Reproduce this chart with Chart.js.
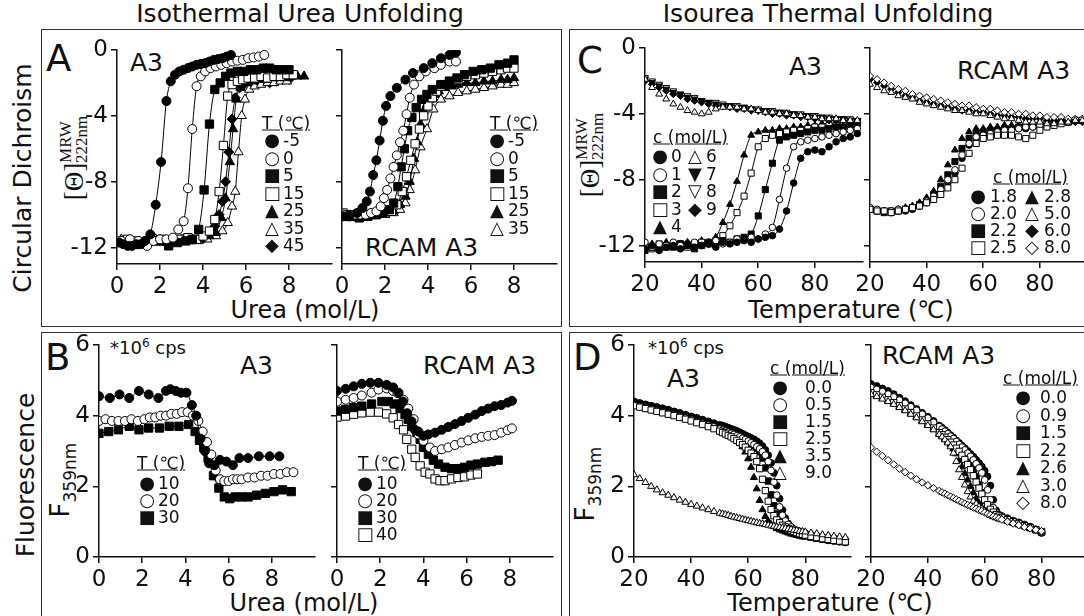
<!DOCTYPE html>
<html>
<head>
<meta charset="utf-8">
<script src="https://cdn.jsdelivr.net/npm/chart.js@4.4.1/dist/chart.umd.min.js"></script>
<style>
  body { margin: 0; width: 1084px; height: 616px; overflow: hidden; position: relative; background: #fff;
         font-family: 'DejaVu Sans', sans-serif; color: #111; }
  canvas { position: absolute; }
  .box { position: absolute; border: 1.5px solid #333; box-sizing: border-box; }
  .t { position: absolute; white-space: nowrap; line-height: 1; transform: translateY(-50%); }
  .c { position: absolute; white-space: nowrap; line-height: 1; transform: translate(-50%, -50%); }
  .v { position: absolute; white-space: nowrap; line-height: 1; transform: translate(-50%, -50%) rotate(-90deg); }
  .title { font-size: 25px; }
  .row { font-size: 25px; }
  .big { font-size: 37px; }
  .name { font-size: 25px; }
  .ax { font-size: 24px; }
  .cps { font-size: 18px; }
  .cps sup { font-size: 12px; }
  .ser { font-family: 'Liberation Serif', serif; font-size: 27px; vertical-align: middle; }
  .stk { display: inline-block; vertical-align: middle; font-family: 'Liberation Serif', serif; font-size: 17px; line-height: 0.95; }
  .stk span { display: block; }
  .fl { font-size: 26px; }
  .fl sub { font-size: 17px; }
  .lg { font-size: 17px; }
  .hd { text-decoration: underline; }
  .mk { font-size: 18px; }
</style>
</head>
<body>

<div class="box" style="left:41px;top:29px;width:521px;height:298px"></div>
<div class="box" style="left:41px;top:332px;width:521px;height:300px"></div>
<div class="box" style="left:569px;top:29px;width:530px;height:298px"></div>
<div class="box" style="left:569px;top:332px;width:530px;height:300px"></div>

<div class="c title" style="left:300px;top:13px">Isothermal Urea Unfolding</div>
<div class="c title" style="left:828px;top:13px">Isourea Thermal Unfolding</div>

<div class="v row" style="left:22px;top:178px">Circular Dichroism</div>
<div class="v row" style="left:25px;top:475px">Fluorescence</div>

<div class="t big" style="left:46px;top:58px">A</div>
<div class="t big" style="left:45px;top:357px">B</div>
<div class="t big" style="left:577px;top:60px">C</div>
<div class="t big" style="left:573px;top:357px">D</div>

<div class="t name" style="left:130px;top:62px">A3</div>
<div class="t name" style="left:365px;top:247px">RCAM A3</div>
<div class="t name" style="left:789px;top:66px">A3</div>
<div class="t name" style="left:957px;top:70px">RCAM A3</div>
<div class="t name" style="left:240px;top:365px">A3</div>
<div class="t name" style="left:423px;top:365px">RCAM A3</div>
<div class="t name" style="left:667px;top:378px">A3</div>
<div class="t name" style="left:882px;top:355px">RCAM A3</div>

<div class="t cps" style="left:110px;top:347px">*10<sup>6</sup> cps</div>
<div class="t cps" style="left:648px;top:347px">*10<sup>6</sup> cps</div>

<div class="c ax" style="left:305px;top:310px">Urea (mol/L)</div>
<div class="c ax" style="left:304px;top:603px">Urea (mol/L)</div>
<div class="c ax" style="left:851px;top:310px">Temperature (℃)</div>
<div class="c ax" style="left:830px;top:603px">Temperature (℃)</div>

<div class="v" style="left:74px;top:158px"><span class="ser">[Θ]</span><span class="stk"><span>MRW</span><span>222nm</span></span></div>
<div class="v" style="left:590px;top:155px"><span class="ser">[Θ]</span><span class="stk"><span>MRW</span><span>222nm</span></span></div>
<div class="v fl" style="left:63px;top:480px">F<sub>359nm</sub></div>
<div class="v fl" style="left:588px;top:484px">F<sub>359nm</sub></div>

<script>
// ---- tick values ----
const ureaTicks = [0, 2, 4, 6, 8];
const tempTicks = [20, 40, 60, 80];
const cdTicks = [0, -4, -8, -12];
const flTicks = [0, 2, 4, 6];

// ---- A: CD of A3 vs urea, one series per temperature ----
const cdA3Temps = ['-5', '0', '5', '15', '25', '35', '45'];
const cdA3_m5_x = [0.1,0.3,0.5,0.7,0.9,1.1,1.3,1.55,1.8,2.05,2.3,2.5,2.7,2.9,3.1,3.3,3.5,3.7,3.9,4.1,4.3,4.5,4.7,4.9,5.1,5.3];
const cdA3_m5_y = [-11.7,-11.8,-11.9,-11.9,-11.8,-11.8,-11.6,-11.2,-9.4,-6.8,-3.1,-1.9,-1.5,-1.3,-1.2,-1.1,-1.0,-0.9,-0.85,-0.8,-0.7,-0.6,-0.55,-0.5,-0.4,-0.3];
const cdA3_0_x = [0.2,0.6,1.0,1.4,1.7,2.0,2.3,2.6,2.85,3.1,3.3,3.5,3.7,3.9,4.1,4.35,4.6,4.85,5.1,5.35,5.6,5.85,6.1,6.35,6.6,6.85];
const cdA3_0_y = [-11.6,-11.5,-11.6,-11.9,-11.6,-11.5,-11.5,-11.4,-10.9,-10.4,-8.4,-4.8,-2.2,-1.6,-1.3,-1.1,-1.0,-0.9,-0.8,-0.7,-0.65,-0.6,-0.5,-0.45,-0.4,-0.3];
const cdA3_5_x = [0.4,0.8,1.2,1.6,2.0,2.4,2.8,3.2,3.5,3.8,4.05,4.3,4.55,4.8,5.05,5.3,5.6,5.9,6.2,6.5,6.8,7.1,7.4,7.7,8.0];
const cdA3_5_y = [-11.8,-11.8,-11.7,-11.6,-11.6,-11.9,-11.7,-11.6,-11.5,-10.9,-8.5,-4.5,-2.4,-2.0,-1.6,-1.4,-1.3,-1.3,-1.2,-1.2,-1.1,-1.1,-1.2,-1.2,-1.2];
const cdA3_15_x = [0.1,0.5,0.9,1.3,1.7,2.1,2.5,2.9,3.3,3.7,4.0,4.3,4.55,4.75,4.95,5.15,5.35,5.6,5.85,6.1,6.4,6.7,7.0,7.3,7.6,7.9,8.2];
const cdA3_15_y = [-11.6,-11.5,-11.6,-11.7,-11.6,-11.5,-11.6,-11.5,-11.4,-11.5,-11.3,-11.0,-10.3,-8.6,-5.8,-2.8,-2.1,-1.9,-1.8,-1.7,-1.7,-1.6,-1.7,-1.6,-1.6,-1.5,-1.5];
const cdA3_25_x = [0.3,0.7,1.1,1.5,1.9,2.3,2.7,3.1,3.5,3.9,4.3,4.6,4.85,5.05,5.25,5.4,5.55,5.75,6.0,6.3,6.6,6.9,7.2,7.5,7.8,8.1,8.4,8.7];
const cdA3_25_y = [-11.6,-11.7,-11.8,-11.7,-11.6,-11.7,-11.6,-11.5,-11.6,-11.5,-11.3,-11.1,-10.2,-9.0,-6.8,-4.8,-3.0,-2.3,-2.0,-1.9,-1.8,-1.8,-1.7,-1.7,-1.7,-1.6,-1.6,-1.6];
const cdA3_35_x = [0.2,0.6,1.0,1.4,1.8,2.2,2.6,3.0,3.4,3.8,4.2,4.6,4.9,5.15,5.35,5.5,5.65,5.8,5.95,6.15,6.4,6.7,7.0,7.3,7.6,7.9];
const cdA3_35_y = [-11.5,-11.6,-11.7,-11.6,-11.5,-11.6,-11.6,-11.5,-11.6,-11.6,-11.5,-11.3,-11.0,-10.5,-9.5,-8.6,-6.2,-4.0,-3.0,-2.4,-2.2,-2.1,-2.0,-2.0,-1.9,-1.9];
const cdA3_45_x = [0.5,1.0,1.5,2.0,2.5,3.0,3.5,4.0,4.3,4.55,4.75,4.9,5.05,5.2,5.35,5.5,5.7,5.9,6.2,6.5,6.8,7.1,7.4,7.7,8.0];
const cdA3_45_y = [-11.7,-11.8,-11.7,-11.6,-11.7,-11.6,-11.5,-11.4,-11.2,-10.7,-10.0,-9.2,-8.0,-6.2,-4.2,-2.9,-2.3,-2.1,-2.0,-2.0,-1.9,-2.0,-1.9,-1.8,-1.8];

// ---- A: CD of RCAM A3 vs urea ----
const cdRcTemps = ['-5', '0', '5', '15', '25', '35'];
const cdRc_m5_x = [0.05,0.35,0.7,0.95,1.15,1.3,1.45,1.6,1.75,1.9,2.05,2.25,2.55,2.95,3.3,3.8,4.2,4.6,5.0,5.3];
const cdRc_m5_y = [-10.1,-10.1,-9.9,-9.6,-9.2,-8.6,-7.6,-6.7,-5.5,-4.3,-3.4,-2.8,-2.3,-1.8,-1.4,-1.1,-0.8,-0.5,-0.3,-0.15];
const cdRc_0_x = [0.05,0.35,0.6,0.85,1.1,1.35,1.6,1.8,1.95,2.1,2.25,2.4,2.55,2.7,2.85,3.0,3.15,3.35,3.6,3.9,4.3,4.6,5.0,5.3];
const cdRc_0_y = [-10.0,-10.1,-10.0,-10.0,-10.0,-9.9,-9.8,-9.5,-9.0,-8.5,-7.8,-7.1,-6.4,-5.6,-4.9,-3.9,-2.9,-2.1,-1.6,-1.3,-1.1,-0.9,-0.7,-0.7];
const cdRc_5_x = [0.05,0.4,0.8,1.2,1.6,1.9,2.2,2.4,2.6,2.75,2.9,3.05,3.25,3.45,3.7,3.95,4.2,4.6,5.0,5.35,5.7,6.1,6.5,6.9,7.3,7.7,8.0];
const cdRc_5_y = [-10.0,-10.1,-10.2,-10.1,-10.0,-9.9,-9.7,-9.3,-8.3,-7.1,-6.0,-4.9,-4.1,-3.5,-3.0,-2.7,-2.4,-2.1,-1.9,-1.7,-1.5,-1.3,-1.2,-1.1,-0.9,-0.8,-0.6];
const cdRc_15_x = [0.05,0.4,0.8,1.2,1.6,2.0,2.3,2.55,2.8,3.0,3.2,3.4,3.6,3.8,4.0,4.2,4.4,4.6,5.0,5.4,5.8,6.2,6.6,7.0,7.4,7.7,8.0];
const cdRc_15_y = [-9.9,-10.0,-10.1,-10.0,-10.0,-9.9,-9.8,-9.4,-8.6,-7.7,-6.7,-5.7,-4.8,-4.0,-3.4,-2.9,-2.5,-2.2,-1.9,-1.8,-1.6,-1.5,-1.4,-1.3,-1.2,-1.1,-1.1];
const cdRc_25_x = [0.05,0.4,0.8,1.2,1.6,2.0,2.4,2.7,2.95,3.15,3.35,3.5,3.65,3.8,3.95,4.1,4.3,4.5,4.8,5.1,5.4,5.8,6.2,6.6,7.0,7.4,7.7,8.0];
const cdRc_25_y = [-10.2,-10.2,-10.1,-10.1,-10.0,-10.0,-9.8,-9.4,-8.9,-8.0,-6.6,-5.6,-4.5,-3.7,-3.3,-3.0,-2.7,-2.5,-2.3,-2.2,-2.1,-2.0,-2.0,-1.9,-1.9,-1.8,-1.8,-1.7];
const cdRc_35_x = [0.05,0.4,0.8,1.2,1.6,2.0,2.4,2.7,2.95,3.15,3.4,3.65,3.95,4.25,4.6,5.0,5.4,5.8,6.2,6.6,7.0,7.4,7.7,8.0];
const cdRc_35_y = [-10.0,-10.1,-10.2,-10.1,-10.0,-10.0,-9.9,-9.7,-9.3,-8.5,-7.3,-5.9,-4.8,-3.6,-3.0,-2.8,-2.6,-2.5,-2.4,-2.3,-2.2,-2.1,-2.1,-2.0];

// ---- B: fluorescence of A3 vs urea ----
const flA3Temps = ['10', '20', '30'];
const flA3_10_x = [0,0.5,0.95,1.4,1.85,2.3,2.75,3.1,3.3,3.55,3.8,4.05,4.3,4.5,4.7,4.9,5.1,5.35,5.6,5.9,6.2,6.5,6.9,7.4,7.9,8.35];
const flA3_10_y = [4.55,4.5,4.6,4.5,4.7,4.6,4.5,4.7,4.75,4.7,4.65,4.65,4.3,4.0,3.35,3.0,2.65,2.6,2.75,2.7,2.6,2.8,2.8,2.85,2.85,2.85];
const flA3_20_x = [0,0.3,0.6,0.9,1.2,1.5,1.8,2.1,2.35,2.6,2.85,3.1,3.35,3.6,3.85,4.1,4.35,4.6,4.8,5.0,5.2,5.4,5.6,5.8,6.0,6.2,6.4,6.6,6.9,7.2,7.5,7.8,8.1,8.4,8.7,9.0];
const flA3_20_y = [3.85,3.9,3.85,3.85,3.85,3.9,3.85,3.9,3.95,3.95,4.0,4.0,4.05,4.05,4.1,4.1,4.0,3.85,3.55,3.25,2.9,2.45,2.2,2.15,2.15,2.2,2.2,2.2,2.25,2.25,2.3,2.3,2.35,2.35,2.4,2.4];
const flA3_30_x = [0,0.45,0.9,1.4,1.85,2.3,2.8,3.25,3.7,4.15,4.45,4.65,4.85,5.05,5.3,5.55,5.8,6.05,6.3,6.6,6.9,7.3,7.7,8.1,8.5,8.9];
const flA3_30_y = [3.5,3.55,3.6,3.7,3.6,3.65,3.65,3.7,3.7,3.75,3.55,3.3,3.1,2.8,2.3,1.95,1.7,1.65,1.7,1.7,1.7,1.75,1.8,1.85,1.9,1.85];

// ---- B: fluorescence of RCAM A3 vs urea ----
const flRcTemps = ['10', '20', '30', '40'];
const flRc_10_x = [0,0.4,0.77,1.15,1.54,1.92,2.3,2.6,2.85,3.05,3.25,3.45,3.6,3.77,4.0,4.23,4.54,4.85,5.15,5.46,5.77,6.08,6.4,6.7,7.0,7.3,7.6,7.9,8.1];
const flRc_10_y = [4.7,4.76,4.83,4.9,4.93,4.93,4.87,4.8,4.65,4.4,4.07,3.84,3.6,3.55,3.43,3.47,3.52,3.6,3.68,3.76,3.85,3.94,4.03,4.13,4.2,4.27,4.3,4.37,4.42];
const flRc_20_x = [0,0.4,0.77,1.15,1.6,1.92,2.3,2.6,2.8,3.08,3.3,3.55,3.77,4.0,4.3,4.54,4.85,5.15,5.46,5.77,6.08,6.4,6.7,7.0,7.3,7.6,7.9,8.1];
const flRc_20_y = [4.4,4.45,4.5,4.57,4.65,4.74,4.77,4.7,4.64,4.45,4.2,3.9,3.47,3.29,3.1,3.0,3.05,3.1,3.17,3.24,3.3,3.36,3.4,3.43,3.45,3.52,3.59,3.64];
const flRc_30_x = [0,0.4,0.77,1.15,1.6,2.08,2.38,2.65,2.92,3.15,3.3,3.46,3.7,3.85,4.0,4.23,4.46,4.7,5.0,5.3,5.6,5.9,6.2,6.5,6.85,7.15,7.46];
const flRc_30_y = [4.13,4.18,4.23,4.27,4.33,4.4,4.4,4.33,4.2,4.03,3.9,3.7,3.52,3.33,3.1,2.91,2.74,2.63,2.54,2.5,2.5,2.54,2.6,2.63,2.68,2.7,2.74];
const flRc_40_x = [0,0.4,0.77,1.15,1.54,1.92,2.3,2.6,2.85,3.08,3.23,3.46,3.62,3.85,4.08,4.3,4.54,4.77,5.0,5.3,5.6,5.9,6.2,6.5];
const flRc_40_y = [3.96,3.99,4.04,4.08,4.1,4.1,4.05,3.94,3.75,3.6,3.33,3.05,2.82,2.58,2.4,2.35,2.21,2.16,2.16,2.21,2.25,2.27,2.32,2.35];

// ---- C: CD melts, shared temperature grid ----
const cdTemp = [20,22.5,25,27.5,30,32.5,35,37.5,40,42.5,45,47.5,50,52.5,55,57.5,60,62.5,65,67.5,70,72.5,75,77.5,80,82.5,85,87.5,90,92.5,95];
const cdA3Urea = ['0', '1', '2', '3', '4', '6', '7', '8', '9'];
const cdA3_c0 = [-12.2,-12.0,-12.3,-12.1,-12.0,-12.2,-11.9,-12.1,-12.0,-11.9,-12.1,-11.8,-11.9,-11.8,-11.7,-11.8,-11.6,-11.5,-11.4,-11.0,-9.9,-8.2,-6.7,-6.3,-6.2,-6.3,-6.0,-5.7,-5.5,-5.4,-5.2];
const cdA3_c1 = [-11.8,-12.1,-11.9,-12.0,-11.8,-12.0,-11.9,-11.8,-12.0,-11.9,-11.7,-11.9,-11.8,-11.6,-11.7,-11.5,-11.6,-11.3,-10.9,-9.2,-7.3,-6.0,-5.7,-5.6,-5.5,-5.4,-5.3,-5.2,-5.1,-5.0,-4.9];
const cdA3_c2 = [-12.3,-12.1,-12.2,-12.0,-12.1,-11.9,-12.0,-12.2,-12.0,-11.8,-11.9,-11.7,-11.8,-11.6,-11.5,-11.3,-10.2,-8.6,-7.0,-5.6,-5.4,-5.3,-5.2,-5.1,-5.0,-5.0,-4.9,-4.8,-4.8,-4.7,-4.6];
const cdA3_c3 = [-12.0,-12.2,-11.9,-12.1,-12.0,-11.9,-12.1,-11.9,-11.8,-11.9,-11.7,-11.4,-10.8,-10.0,-9.0,-7.6,-6.0,-5.5,-5.3,-5.2,-5.1,-5.0,-5.0,-4.9,-4.8,-4.8,-4.7,-4.7,-4.6,-4.6,-4.5];
const cdA3_c4 = [-12.1,-11.9,-12.0,-11.8,-12.0,-11.9,-11.8,-11.9,-11.7,-11.8,-11.5,-10.6,-9.5,-8.1,-6.5,-5.3,-5.1,-5.0,-5.0,-4.9,-4.9,-4.8,-4.8,-4.7,-4.7,-4.6,-4.6,-4.6,-4.5,-4.5,-4.5];
const cdA3_c6 = [-1.9,-2.4,-2.8,-3.1,-3.4,-3.6,-3.8,-3.9,-4.0,-3.9,-3.7,-3.6,-3.6,-3.6,-3.7,-3.7,-3.8,-3.9,-3.9,-4.0,-4.0,-4.1,-4.1,-4.2,-4.2,-4.3,-4.3,-4.3,-4.4,-4.4,-4.4];
const cdA3_c7 = [-1.9,-2.1,-2.3,-2.5,-2.7,-2.8,-3.0,-3.1,-3.2,-3.3,-3.4,-3.5,-3.5,-3.6,-3.6,-3.7,-3.8,-3.8,-3.9,-3.9,-4.0,-4.0,-4.1,-4.1,-4.2,-4.2,-4.3,-4.3,-4.3,-4.4,-4.4];
const cdA3_c8 = [-1.8,-2.0,-2.2,-2.4,-2.6,-2.8,-2.9,-3.0,-3.2,-3.3,-3.3,-3.4,-3.5,-3.5,-3.6,-3.7,-3.7,-3.8,-3.8,-3.9,-3.9,-4.0,-4.0,-4.1,-4.1,-4.2,-4.2,-4.3,-4.3,-4.3,-4.4];
const cdA3_c9 = [-2.0,-2.2,-2.4,-2.6,-2.8,-2.9,-3.1,-3.2,-3.3,-3.4,-3.5,-3.5,-3.6,-3.7,-3.7,-3.8,-3.8,-3.9,-4.0,-4.0,-4.1,-4.1,-4.2,-4.2,-4.3,-4.3,-4.4,-4.4,-4.4,-4.5,-4.5];

const cdRcUrea = ['1.8', '2.0', '2.2', '2.5', '2.8', '5.0', '6.0', '8.0'];
const cdRc_c18 = [-9.8,-9.9,-9.9,-10.0,-9.9,-9.9,-9.8,-9.6,-9.4,-9.1,-8.7,-8.2,-7.6,-6.7,-5.9,-5.5,-5.3,-5.2,-5.1,-5.1,-5.0,-4.9,-4.9,-4.8,-4.7,-4.7,-4.6,-4.5,-4.5,-4.4,-4.4];
const cdRc_c20 = [-9.7,-9.8,-9.9,-9.9,-9.8,-9.8,-9.7,-9.6,-9.3,-9.0,-8.6,-8.0,-7.4,-6.5,-5.8,-5.4,-5.3,-5.2,-5.1,-5.0,-5.0,-4.9,-4.8,-4.8,-4.7,-4.6,-4.6,-4.5,-4.5,-4.4,-4.4];
const cdRc_c22 = [-9.8,-9.9,-10.0,-9.9,-9.9,-9.8,-9.7,-9.5,-9.3,-8.9,-8.4,-7.7,-6.9,-6.1,-5.5,-5.2,-5.1,-5.0,-5.0,-4.9,-4.9,-4.8,-4.8,-4.7,-4.7,-4.6,-4.6,-4.5,-4.5,-4.4,-4.4];
const cdRc_c25 = [-9.8,-9.9,-9.9,-10.0,-9.9,-9.8,-9.7,-9.6,-9.4,-9.2,-8.9,-8.5,-8.0,-7.3,-6.4,-5.8,-5.5,-5.4,-5.3,-5.3,-5.3,-5.4,-5.5,-5.3,-5.0,-4.8,-4.7,-4.6,-4.5,-4.4,-4.4];
const cdRc_c28 = [-9.8,-9.9,-9.9,-9.9,-9.8,-9.7,-9.6,-9.4,-9.1,-8.7,-8.0,-7.1,-6.2,-5.5,-5.1,-4.9,-4.9,-4.8,-4.8,-4.7,-4.7,-4.7,-4.6,-4.6,-4.6,-4.5,-4.5,-4.5,-4.4,-4.4,-4.4];
const cdRc_c50 = [-2.2,-2.4,-2.6,-2.7,-2.9,-3.0,-3.1,-3.3,-3.4,-3.5,-3.6,-3.7,-3.8,-3.8,-3.9,-4.0,-4.0,-4.1,-4.2,-4.3,-4.3,-4.4,-4.5,-4.5,-4.5,-4.6,-4.6,-4.5,-4.5,-4.4,-4.4];
const cdRc_c60 = [-1.9,-2.1,-2.3,-2.5,-2.7,-2.9,-3.0,-3.2,-3.3,-3.4,-3.5,-3.6,-3.7,-3.8,-3.8,-3.9,-3.9,-4.0,-4.1,-4.1,-4.2,-4.2,-4.3,-4.3,-4.3,-4.4,-4.4,-4.4,-4.4,-4.5,-4.5];
const cdRc_c80 = [-1.7,-1.9,-2.1,-2.3,-2.5,-2.6,-2.8,-2.9,-3.0,-3.1,-3.2,-3.3,-3.4,-3.5,-3.5,-3.6,-3.7,-3.7,-3.8,-3.9,-3.9,-4.0,-4.0,-4.1,-4.1,-4.2,-4.2,-4.2,-4.3,-4.3,-4.3];

// ---- D: fluorescence melts (1 degree steps through the transitions) ----
const flTempA3 = [20,22,24,26,28,30,32,34,36,38,40,42,44,46,48,
  50,51,52,53,54,55,56,57,58,59,60,61,62,63,64,65,66,67,68,69,70,71,72,73,74,75,76,77,78,79,80,
  82,84,86,88,90,92,94];
const flA3Urea = ['0.0', '0.5', '1.5', '2.5', '3.5', '9.0'];
const flA3_c00 = [4.40,4.36,4.32,4.28,4.25,4.21,4.17,4.12,4.08,4.03,3.98,3.94,3.89,3.84,3.79,
  3.74,3.72,3.69,3.66,3.63,3.60,3.57,3.53,3.49,3.45,3.41,3.37,3.33,3.28,3.22,3.14,3.03,2.88,2.66,2.38,2.02,1.65,1.33,1.10,0.95,0.85,0.78,0.72,0.68,0.65,0.62,
  0.58,0.54,0.50,0.47,0.45,0.43,0.41];
const flA3_c05 = [4.30,4.26,4.22,4.18,4.14,4.10,4.06,4.02,3.97,3.93,3.88,3.83,3.78,3.73,3.68,
  3.62,3.59,3.56,3.53,3.50,3.47,3.43,3.40,3.36,3.32,3.28,3.23,3.18,3.12,3.06,2.98,2.88,2.70,2.45,2.12,1.75,1.42,1.18,1.02,0.92,0.85,0.79,0.75,0.72,0.70,0.67,
  0.63,0.60,0.57,0.55,0.53,0.51,0.49];
const flA3_c15 = [4.38,4.34,4.30,4.26,4.22,4.18,4.14,4.10,4.05,4.00,3.96,3.91,3.86,3.80,3.75,
  3.69,3.66,3.62,3.59,3.55,3.51,3.47,3.43,3.38,3.33,3.28,3.22,3.16,3.08,2.98,2.80,2.52,2.15,1.76,1.45,1.22,1.07,0.97,0.90,0.84,0.79,0.75,0.72,0.69,0.66,0.63,
  0.59,0.55,0.52,0.50,0.47,0.45,0.43];
const flA3_c25 = [4.28,4.24,4.20,4.16,4.12,4.08,4.04,4.00,3.95,3.90,3.85,3.80,3.75,3.69,3.63,
  3.56,3.52,3.48,3.44,3.40,3.35,3.30,3.24,3.18,3.11,3.02,2.94,2.84,2.70,2.50,2.20,1.88,1.58,1.34,1.17,1.05,0.97,0.90,0.85,0.80,0.76,0.72,0.69,0.66,0.64,0.62,
  0.58,0.55,0.52,0.50,0.47,0.45,0.43];
const flA3_c35 = [4.36,4.32,4.28,4.24,4.20,4.16,4.11,4.06,4.01,3.96,3.91,3.86,3.81,3.76,3.70,
  3.64,3.60,3.56,3.51,3.46,3.40,3.32,3.23,3.12,2.97,2.78,2.54,2.25,1.93,1.60,1.34,1.15,1.02,0.92,0.86,0.81,0.77,0.74,0.71,0.68,0.65,0.63,0.61,0.59,0.57,0.56,
  0.53,0.50,0.48,0.46,0.44,0.42,0.41];
const flA3_c90 = [2.33,2.22,2.11,2.00,1.90,1.82,1.75,1.68,1.61,1.55,1.49,1.44,1.39,1.34,1.29,
  1.24,1.22,1.20,1.18,1.15,1.13,1.11,1.09,1.07,1.05,1.03,1.01,0.99,0.97,0.95,0.94,0.92,0.90,0.88,0.87,0.85,0.84,0.82,0.81,0.79,0.78,0.76,0.75,0.73,0.72,0.71,
  0.68,0.66,0.63,0.61,0.59,0.57,0.55];

const flTempRc = [20,22,24,26,28,30,32,34,36,38,40,42,44,
  45,46,47,48,49,50,51,52,53,54,55,56,57,58,59,60,61,62,63,64,65,66,
  68,70,72,74,76,78,80];
const flRcUrea = ['0.0', '0.9', '1.5', '2.2', '2.6', '3.0', '8.0'];
const flRc_c00 = [4.90,4.84,4.77,4.70,4.61,4.51,4.41,4.30,4.19,4.08,3.97,3.85,3.72,
  3.66,3.59,3.52,3.45,3.38,3.30,3.23,3.15,3.08,3.00,2.92,2.84,2.75,2.66,2.56,2.44,2.28,2.02,1.62,1.32,1.20,1.16,
  1.10,1.03,0.98,0.92,0.86,0.78,0.68];
const flRc_c09 = [4.80,4.74,4.68,4.61,4.53,4.44,4.35,4.25,4.15,4.04,3.93,3.81,3.69,
  3.62,3.56,3.49,3.42,3.35,3.27,3.19,3.11,3.03,2.94,2.85,2.75,2.64,2.52,2.38,2.18,1.90,1.62,1.40,1.25,1.18,1.14,
  1.08,1.02,0.97,0.91,0.85,0.78,0.70];
const flRc_c15 = [4.75,4.69,4.62,4.55,4.47,4.38,4.29,4.19,4.09,3.98,3.87,3.75,3.62,
  3.56,3.49,3.42,3.34,3.26,3.18,3.09,3.00,2.90,2.78,2.64,2.48,2.28,2.05,1.82,1.60,1.43,1.30,1.23,1.18,1.15,1.12,
  1.06,1.00,0.95,0.89,0.83,0.77,0.70];
const flRc_c22 = [4.65,4.59,4.52,4.45,4.37,4.28,4.19,4.09,3.99,3.88,3.77,3.65,3.52,
  3.46,3.39,3.32,3.25,3.17,3.08,2.99,2.88,2.76,2.62,2.47,2.30,2.12,1.95,1.78,1.62,1.48,1.35,1.27,1.20,1.16,1.12,
  1.06,1.00,0.95,0.89,0.83,0.77,0.72];
const flRc_c26 = [4.62,4.56,4.49,4.42,4.34,4.25,4.16,4.06,3.96,3.85,3.74,3.62,3.49,
  3.42,3.35,3.27,3.18,3.06,2.92,2.74,2.55,2.36,2.18,2.00,1.82,1.66,1.52,1.40,1.30,1.23,1.18,1.14,1.11,1.08,1.06,
  1.01,0.96,0.91,0.86,0.81,0.75,0.70];
const flRc_c30 = [4.60,4.54,4.47,4.40,4.32,4.23,4.14,4.04,3.94,3.83,3.72,3.60,3.47,
  3.40,3.32,3.23,3.12,2.94,2.70,2.47,2.25,2.04,1.85,1.70,1.58,1.50,1.42,1.36,1.30,1.25,1.20,1.16,1.13,1.10,1.07,
  1.02,0.97,0.92,0.87,0.82,0.77,0.72];
const flRc_c80 = [3.10,2.98,2.86,2.74,2.62,2.50,2.40,2.30,2.20,2.11,2.03,1.95,1.87,
  1.83,1.79,1.75,1.71,1.67,1.63,1.59,1.55,1.51,1.47,1.44,1.40,1.37,1.33,1.30,1.26,1.22,1.19,1.15,1.12,1.09,1.06,
  1.00,0.95,0.90,0.85,0.81,0.77,0.73];

// ---- drawing helpers ----
const FONT = "'DejaVu Sans', sans-serif";
const GLYPH = { fc: '●', oc: '○', fs: '■', os: '□', ft: '▲', ot: '△', fv: '▼', ov: '▽', fd: '◆', od: '◇' };

function series(xs, ys, kind, size, line) {
  const s = kind[1];
  const scale = { c: 1, s: 1.3, t: 1.2, v: 1.2, d: 1.1 }[s];
  return {
    data: xs.map((x, i) => ({ x: x, y: ys[i] })),
    pointStyle: { c: 'circle', s: 'rect', t: 'triangle', v: 'triangle', d: 'rectRot' }[s],
    pointRotation: s === 'v' ? 180 : 0,
    pointRadius: size * scale,
    pointBackgroundColor: kind[0] === 'f' ? '#000' : '#fff',
    pointBorderColor: '#000',
    pointBorderWidth: 1,
    showLine: !!line,
    borderColor: '#000',
    borderWidth: 1,
    cubicInterpolationMode: 'monotone'
  };
}

function axis(min, max, ticks, showLabels, fit) {
  return {
    type: 'linear', min: min, max: max,
    afterBuildTicks: s => { s.ticks = ticks.map(v => ({ value: v })); },
    afterFit: fit,
    ticks: {
      font: { family: FONT, size: 23 }, color: '#111', padding: 3, autoSkip: false, maxRotation: 0,
      callback: v => showLabels ? String(v) : ''
    },
    grid: { drawOnChartArea: false, drawTicks: true, tickLength: 6, color: '#111', lineWidth: 1.5 },
    border: { display: true, color: '#111', width: 1.5 }
  };
}

// g: pixel box of the plotting area plus data ranges
function plot(g, datasets) {
  const padL = 80, padT = 20, padR = 20, padB = 60;
  const cv = document.createElement('canvas');
  cv.width = (g.x1 - g.x0) + padL + padR;
  cv.height = (g.y1 - g.y0) + padT + padB;
  document.body.appendChild(cv);
  const chart = new Chart(cv, {
    type: 'scatter',
    data: { datasets: datasets },
    options: {
      responsive: false, animation: false, events: [],
      layout: { padding: { top: padT, right: padR, left: 0, bottom: 0 } },
      plugins: { legend: { display: false }, tooltip: { enabled: false } },
      scales: {
        x: axis(g.xmin, g.xmax, g.xticks, true, s => { s.height = padB; }),
        y: axis(g.ymin, g.ymax, g.yticks, g.ylabels, s => { s.width = padL; })
      }
    }
  });
  const a = chart.chartArea;
  cv.style.left = (g.x0 - a.left) + 'px';
  cv.style.top = (g.y0 - a.top) + 'px';
}

function place(cls, html, x, y) {
  const d = document.createElement('div');
  d.className = cls;
  d.innerHTML = html;
  d.style.left = x + 'px';
  d.style.top = y + 'px';
  document.body.appendChild(d);
}

// heading plus one or more columns of marker + label rows
function legend(head, hx, hy, cols) {
  place('t lg hd', head, hx, hy);
  cols.forEach(col => {
    col.kinds.forEach((k, i) => {
      const y = col.y0 + i * col.dy;
      place('c mk', GLYPH[k], col.mx, y);
      place('t lg', col.labels[i], col.lx, y);
    });
  });
}

// ---- A ----
const kA3 = ['fc', 'oc', 'fs', 'os', 'ft', 'ot', 'fd'];
plot({ x0: 117, x1: 332, y0: 50, y1: 264, xmin: 0, xmax: 10, ymin: -13, ymax: 0, xticks: ureaTicks, yticks: cdTicks, ylabels: true }, [
  series(cdA3_m5_x, cdA3_m5_y, kA3[0], 4.5, true),
  series(cdA3_0_x, cdA3_0_y, kA3[1], 4.5, true),
  series(cdA3_5_x, cdA3_5_y, kA3[2], 4.5, true),
  series(cdA3_15_x, cdA3_15_y, kA3[3], 4.5, true),
  series(cdA3_25_x, cdA3_25_y, kA3[4], 4.5, true),
  series(cdA3_35_x, cdA3_35_y, kA3[5], 4.5, true),
  series(cdA3_45_x, cdA3_45_y, kA3[6], 4.5, true)
]);
legend('T (℃)', 262, 123, [{ mx: 272, lx: 283, y0: 140, dy: 17.5, kinds: kA3, labels: cdA3Temps }]);

const kRc = ['fc', 'oc', 'fs', 'os', 'ft', 'ot'];
plot({ x0: 342, x1: 557, y0: 50, y1: 264, xmin: 0, xmax: 10, ymin: -13, ymax: 0, xticks: ureaTicks, yticks: cdTicks, ylabels: false }, [
  series(cdRc_m5_x, cdRc_m5_y, kRc[0], 4.5, true),
  series(cdRc_0_x, cdRc_0_y, kRc[1], 4.5, true),
  series(cdRc_5_x, cdRc_5_y, kRc[2], 4.5, true),
  series(cdRc_15_x, cdRc_15_y, kRc[3], 4.5, true),
  series(cdRc_25_x, cdRc_25_y, kRc[4], 4.5, true),
  series(cdRc_35_x, cdRc_35_y, kRc[5], 4.5, true)
]);
legend('T (℃)', 490, 123, [{ mx: 497, lx: 508, y0: 140, dy: 17.5, kinds: kRc, labels: cdRcTemps }]);

// ---- B ----
const kB = ['fc', 'oc', 'fs', 'os'];
plot({ x0: 99, x1: 315, y0: 345, y1: 557, xmin: 0, xmax: 10, ymin: 0, ymax: 6, xticks: ureaTicks, yticks: flTicks, ylabels: true }, [
  series(flA3_10_x, flA3_10_y, kB[0], 4.5, true),
  series(flA3_20_x, flA3_20_y, kB[1], 4.5, true),
  series(flA3_30_x, flA3_30_y, kB[2], 4.5, true)
]);
legend('T (℃)', 137, 463, [{ mx: 147, lx: 158, y0: 483, dy: 17, kinds: kB.slice(0, 3), labels: flA3Temps }]);

plot({ x0: 337, x1: 553, y0: 345, y1: 557, xmin: 0, xmax: 10, ymin: 0, ymax: 6, xticks: ureaTicks, yticks: flTicks, ylabels: false }, [
  series(flRc_10_x, flRc_10_y, kB[0], 4.5, false),
  series(flRc_20_x, flRc_20_y, kB[1], 4.5, false),
  series(flRc_30_x, flRc_30_y, kB[2], 4.5, false),
  series(flRc_40_x, flRc_40_y, kB[3], 4.5, false)
]);
legend('T (℃)', 358, 463, [{ mx: 365, lx: 376, y0: 483, dy: 17, kinds: kB, labels: flRcTemps }]);

// ---- C ----
const kC = ['fc', 'oc', 'fs', 'os', 'ft', 'ot', 'fv', 'ov', 'fd'];
plot({ x0: 645, x1: 863, y0: 48, y1: 262, xmin: 20, xmax: 97, ymin: -13, ymax: 0, xticks: tempTicks, yticks: cdTicks, ylabels: true }, [
  series(cdTemp, cdA3_c6, kC[5], 3.3, false),
  series(cdTemp, cdA3_c7, kC[6], 3.3, false),
  series(cdTemp, cdA3_c8, kC[7], 3.3, false),
  series(cdTemp, cdA3_c9, kC[8], 3.3, false),
  series(cdTemp, cdA3_c0, kC[0], 3.3, true),
  series(cdTemp, cdA3_c1, kC[1], 3.3, true),
  series(cdTemp, cdA3_c2, kC[2], 3.3, true),
  series(cdTemp, cdA3_c3, kC[3], 3.3, true),
  series(cdTemp, cdA3_c4, kC[4], 3.3, true)
]);
legend('c (mol/L)', 653, 137, [
  { mx: 660, lx: 671, y0: 156, dy: 17.5, kinds: kC.slice(0, 5), labels: cdA3Urea.slice(0, 5) },
  { mx: 695, lx: 706, y0: 156, dy: 17.5, kinds: kC.slice(5), labels: cdA3Urea.slice(5) }
]);

const kCr = ['fc', 'oc', 'fs', 'os', 'ft', 'ot', 'fd', 'od'];
plot({ x0: 870, x1: 1088, y0: 48, y1: 262, xmin: 20, xmax: 97, ymin: -13, ymax: 0, xticks: tempTicks, yticks: cdTicks, ylabels: false }, [
  series(cdTemp, cdRc_c50, kCr[5], 3.3, false),
  series(cdTemp, cdRc_c80, kCr[7], 3.3, false),
  series(cdTemp, cdRc_c60, kCr[6], 3.3, false),
  series(cdTemp, cdRc_c25, kCr[3], 3.3, false),
  series(cdTemp, cdRc_c20, kCr[1], 3.3, false),
  series(cdTemp, cdRc_c18, kCr[0], 3.3, false),
  series(cdTemp, cdRc_c22, kCr[2], 3.3, false),
  series(cdTemp, cdRc_c28, kCr[4], 3.3, false)
]);
legend('c (mol/L)', 993, 177, [
  { mx: 978, lx: 990, y0: 196, dy: 17, kinds: kCr.slice(0, 4), labels: cdRcUrea.slice(0, 4) },
  { mx: 1032, lx: 1044, y0: 196, dy: 17, kinds: kCr.slice(4), labels: cdRcUrea.slice(4) }
]);

// ---- D ----
const kD = ['fc', 'oc', 'fs', 'os', 'ft', 'ot'];
plot({ x0: 634, x1: 851, y0: 345, y1: 557, xmin: 20, xmax: 96, ymin: 0, ymax: 6, xticks: tempTicks, yticks: flTicks, ylabels: true }, [
  series(flTempA3, flA3_c90, kD[5], 3.4, false),
  series(flTempA3, flA3_c25, kD[3], 3.4, false),
  series(flTempA3, flA3_c05, kD[1], 3.4, false),
  series(flTempA3, flA3_c35, kD[4], 3.4, false),
  series(flTempA3, flA3_c15, kD[2], 3.4, false),
  series(flTempA3, flA3_c00, kD[0], 3.4, false)
]);
legend('c (mol/L)', 770, 368, [{ mx: 780, lx: 805, y0: 387, dy: 17, kinds: kD, labels: flA3Urea }]);

const kDr = ['fc', 'oc', 'fs', 'os', 'ft', 'ot', 'od'];
plot({ x0: 871, x1: 1087, y0: 345, y1: 557, xmin: 20, xmax: 96, ymin: 0, ymax: 6, xticks: tempTicks, yticks: flTicks, ylabels: false }, [
  series(flTempRc, flRc_c80, kDr[6], 3.4, false),
  series(flTempRc, flRc_c30, kDr[5], 3.4, false),
  series(flTempRc, flRc_c22, kDr[3], 3.4, false),
  series(flTempRc, flRc_c09, kDr[1], 3.4, false),
  series(flTempRc, flRc_c26, kDr[4], 3.4, false),
  series(flTempRc, flRc_c15, kDr[2], 3.4, false),
  series(flTempRc, flRc_c00, kDr[0], 3.4, false)
]);
legend('c (mol/L)', 1003, 378, [{ mx: 1023, lx: 1040, y0: 397, dy: 17.5, kinds: kDr, labels: flRcUrea }]);
</script>
</body>
</html>
